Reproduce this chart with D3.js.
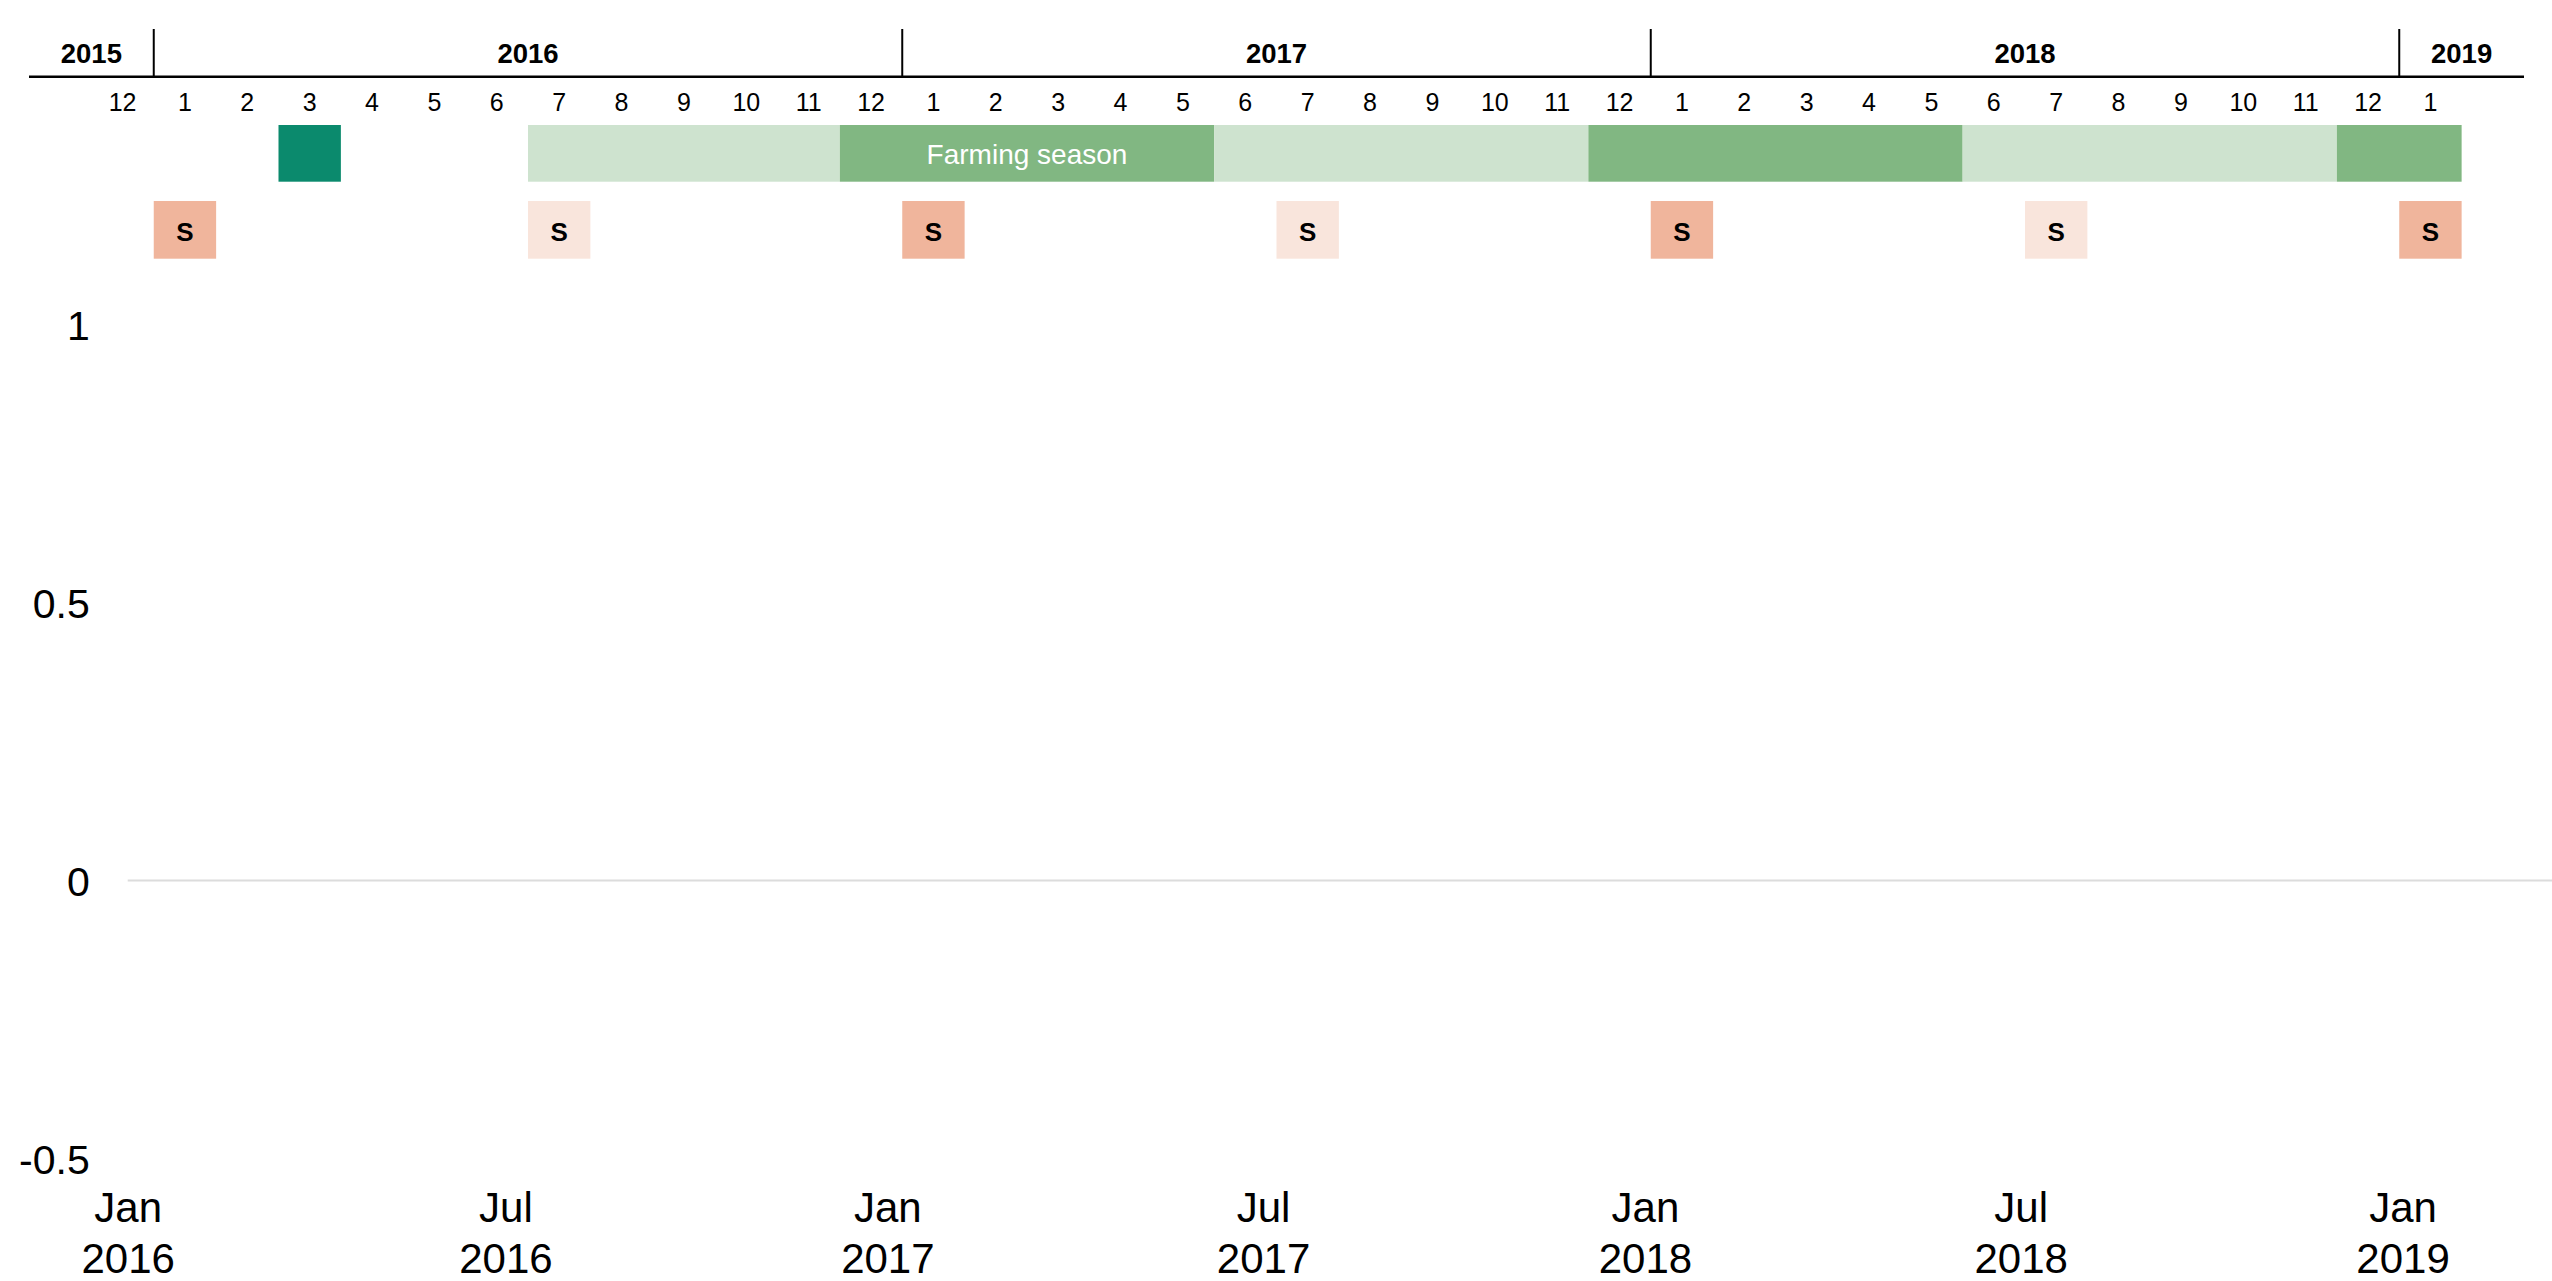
<!DOCTYPE html>
<html>
<head>
  <meta charset="utf-8">
  <title>Farming season timeline</title>
  <script src="https://d3js.org/d3.v7.min.js"></script>
  <style>
    body { margin: 0; background: #fff; }
    svg { display: block; font-family: "Liberation Sans", Arial, sans-serif; }
  </style>
</head>
<body>

  <svg></svg>

  <script>

    // Timeline months shown in the header strip (first and last carry no label)
    var firstMonth = "2015-11", lastMonth = "2019-02";
    var monthLabelFrom = "2015-12", monthLabelTo = "2019-01";

    // Year segments of the header
    var yearLabels = ["2015", "2016", "2017", "2018", "2019"];
    var yearStart  = ["2015-11", "2016-01", "2017-01", "2018-01", "2019-01"];
    var yearEnd    = ["2015-12", "2016-12", "2017-12", "2018-12", "2019-02"];

    // Season bar (row 1)
    var seasonStart = ["2016-03", "2016-07", "2016-12", "2017-06", "2017-12", "2018-06", "2018-12"];
    var seasonEnd   = ["2016-03", "2016-11", "2017-05", "2017-11", "2018-05", "2018-11", "2019-01"];
    var seasonLevel = ["peak", "off", "main", "off", "main", "off", "main"];
    var seasonText  = ["", "", "Farming season", "", "", "", ""];

    // "S" markers (row 2)
    var surveyMonths = ["2016-01", "2016-07", "2017-01", "2017-07", "2018-01", "2018-07", "2019-01"];
    var surveyLevel  = ["strong", "light", "strong", "light", "strong", "light", "strong"];

    // Main chart axes (no series plotted)
    var yTicks = [-0.5, 0, 0.5, 1];
    var yTickLabels = ["-0.5", "0", "0.5", "1"];
    var xTicks = ["2016-01-01", "2016-07-01", "2017-01-01", "2017-07-01", "2018-01-01", "2018-07-01", "2019-01-01"];
    var xDomain = ["2016-01-01", "2019-03-14"];

    var seasonColor = { peak: "#0b8a6d", main: "#81b782", off: "#cee3cf" };
    var surveyColor = { strong: "#f0b59c", light: "#f9e5dc" };

    var W = 2552, H = 1281;

    var svg = d3.select("svg")
        .attr("width", W)
        .attr("height", H);

    var parseMonth = d3.timeParse("%Y-%m");
    var fmtMonth = d3.timeFormat("%Y-%m");
    var parseDay = d3.timeParse("%Y-%m-%d");

    // month band scale for the header strip
    var months = d3.timeMonth.range(parseMonth(firstMonth), d3.timeMonth.offset(parseMonth(lastMonth), 1)).map(fmtMonth);
    var band = d3.scaleBand().domain(months).range([29, 2524]);

    function left(m) { return band(m); }
    function right(m) { return band(m) + band.bandwidth(); }

    var header = svg.append("g");

    // year labels
    header.selectAll(".year")
        .data(yearLabels)
      .enter().append("text")
        .attr("x", function(d, i) { return (left(yearStart[i]) + right(yearEnd[i])) / 2; })
        .attr("y", 63)
        .attr("text-anchor", "middle")
        .style("font-size", "27.5px")
        .style("font-weight", "bold")
        .text(function(d) { return d; });

    // year separators
    header.selectAll(".sep")
        .data(yearStart.slice(1))
      .enter().append("line")
        .attr("x1", function(d) { return left(d); })
        .attr("x2", function(d) { return left(d); })
        .attr("y1", 29)
        .attr("y2", 77)
        .attr("stroke", "#000")
        .attr("stroke-width", 2);

    header.append("line")
        .attr("x1", band.range()[0])
        .attr("x2", band.range()[1])
        .attr("y1", 76.7)
        .attr("y2", 76.7)
        .attr("stroke", "#000")
        .attr("stroke-width", 2.5);

    // month numbers
    var labelled = months.filter(function(m) { return m >= monthLabelFrom && m <= monthLabelTo; });
    header.selectAll(".month")
        .data(labelled)
      .enter().append("text")
        .attr("x", function(d) { return left(d) + band.bandwidth() / 2; })
        .attr("y", 111)
        .attr("text-anchor", "middle")
        .style("font-size", "25px")
        .text(function(d) { return +d.slice(5); });

    // season bar
    header.selectAll(".season")
        .data(seasonStart)
      .enter().append("rect")
        .attr("x", function(d) { return left(d); })
        .attr("width", function(d, i) { return right(seasonEnd[i]) - left(d); })
        .attr("y", 125)
        .attr("height", 56.7)
        .attr("fill", function(d, i) { return seasonColor[seasonLevel[i]]; });

    header.selectAll(".seasonText")
        .data(seasonStart)
      .enter().append("text")
        .attr("x", function(d, i) { return (left(d) + right(seasonEnd[i])) / 2; })
        .attr("y", 164)
        .attr("text-anchor", "middle")
        .attr("fill", "#fff")
        .style("font-size", "28px")
        .text(function(d, i) { return seasonText[i]; });

    // S markers
    header.selectAll(".survey")
        .data(surveyMonths)
      .enter().append("rect")
        .attr("x", function(d) { return left(d); })
        .attr("width", band.bandwidth())
        .attr("y", 201)
        .attr("height", 57.7)
        .attr("fill", function(d, i) { return surveyColor[surveyLevel[i]]; });

    header.selectAll(".surveyText")
        .data(surveyMonths)
      .enter().append("text")
        .attr("x", function(d) { return left(d) + band.bandwidth() / 2; })
        .attr("y", 240.5)
        .attr("text-anchor", "middle")
        .style("font-size", "26px")
        .style("font-weight", "bold")
        .text("S");

    // main chart scales
    var x = d3.scaleTime().domain(xDomain.map(parseDay)).range([127.7, W]);
    var y = d3.scaleLinear().domain([-0.5, 1]).range([1158.5, 324.3]);

    // zero line
    svg.append("line")
        .attr("x1", x.range()[0])
        .attr("x2", x.range()[1])
        .attr("y1", y(0))
        .attr("y2", y(0))
        .attr("stroke", "#dcdcdc")
        .attr("stroke-width", 2);

    // y axis
    var yAxis = svg.append("g")
        .attr("transform", "translate(" + x.range()[0] + ",0)")
        .call(d3.axisLeft(y).tickValues(yTicks).tickSize(0).tickPadding(38)
          .tickFormat(function(d, i) { return yTickLabels[i]; }));
    yAxis.select(".domain").remove();
    yAxis.selectAll("text")
        .attr("fill", "#000")
        .attr("dy", "0.36em")
        .style("font-size", "41px")
        .style("font-family", "\"Liberation Sans\", Arial, sans-serif");

    // x axis with two-line labels
    var xAxis = svg.append("g")
        .attr("transform", "translate(0," + y(-0.5) + ")")
        .call(d3.axisBottom(x).tickValues(xTicks.map(parseDay)).tickSize(0));
    xAxis.select(".domain").remove();
    var fmtM = d3.timeFormat("%b"), fmtY = d3.timeFormat("%Y");
    xAxis.selectAll("text")
        .attr("y", null)
        .attr("dy", null)
        .attr("fill", "#000")
        .style("font-size", "42px")
        .style("font-family", "\"Liberation Sans\", Arial, sans-serif")
        .text(null)
        .each(function(d) {
          var t = d3.select(this);
          t.append("tspan").attr("x", 0).attr("y", 63.2).text(fmtM(d));
          t.append("tspan").attr("x", 0).attr("y", 114.2).text(fmtY(d));
        });

  </script>

</body>
</html>
